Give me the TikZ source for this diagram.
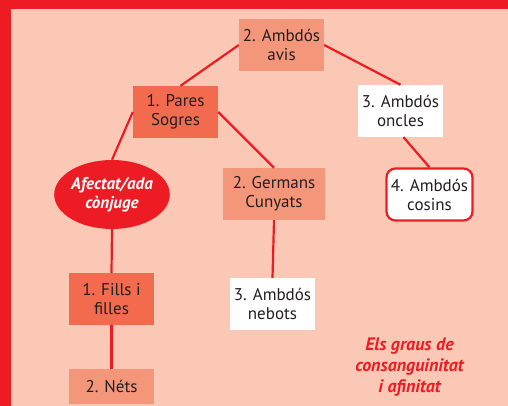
\documentclass[tikz,border=0pt]{standalone}
\usepackage{fontspec}
\setmainfont{PT Sans}
\usetikzlibrary{shapes.geometric}

\definecolor{framered}{HTML}{ED1C24}
\definecolor{peach}{HTML}{FAC8B4}
\definecolor{salmon}{HTML}{F4967A}
\definecolor{coral}{HTML}{F26B4F}
\definecolor{ink}{HTML}{231F20}

\begin{document}
\begin{tikzpicture}[
		x=1pt, y=-1pt,
		every node/.style={rectangle, minimum width=85pt, minimum height=52pt, inner sep=0pt, align=center, text=ink,
			font=\fontsize{17}{19}\selectfont},
		salmonbox/.style={fill=salmon},
		coralbox/.style={fill=coral},
		whitebox/.style={fill=white},
		link/.style={draw=framered, line width=2.2pt}
		]
		
		% Frame
		\useasboundingbox (0,0) rectangle (508,406);
		\fill[framered] (0,0) rectangle (508,406);
		\fill[peach] (11,9) rectangle (508,406);
		
		% Nodes
		\node (avis) [salmonbox] at (281.5,45) {2. Ambdós\\avis};
		\node (pares) [coralbox] at (175.5,112) {1. Pares\\Sogres};
		\node (oncles) [whitebox] at (400.5,111) {3. Ambdós\\oncles};
		\node (conjuge) [ellipse, fill=framered, minimum width=102pt, minimum height=69pt, text=white,
			font=\fontsize{17}{19}\selectfont\bfseries\itshape] at (112,194.5) {Afectat/ada\\cònjuge};
		\node (germans) [salmonbox, minimum width=102pt] at (274,194) {2. Germans\\Cunyats};
		\node (cosins) [whitebox, draw=framered, line width=2.2pt, rounded corners=9pt, minimum width=86pt, minimum height=52pt] at (429.5,194.5) {4. Ambdós\\cosins};
		\node (fills) [coralbox] at (111.5,299) {1. Fills i\\filles};
		\node (nebots) [whitebox] at (272.5,304) {3. Ambdós\\nebots};
		\node (nets) [salmonbox, minimum height=35pt] at (111.5,386.5) {2. Néts};
		\node (titol) [minimum width=0pt, minimum height=0pt, text=framered,
			font=\fontsize{18}{21}\selectfont\bfseries\itshape] at (409.5,367) {Els graus de\\consanguinitat\\i afinitat};
		
		% Lines
		\draw[link] (avis.west) -- ([xshift=5pt]pares.north);
		\draw[link] (avis.east) -- (oncles.north);
		\draw[link] (pares.west) -- (conjuge.north);
		\draw[link] (pares.east) -- (germans.north);
		\draw[link] ([xshift=3pt]oncles.south) -- (cosins.north);
		\draw[link] (conjuge.south) -- (fills.north);
		\draw[link] (germans.south) -- (nebots.north);
		\draw[link] (fills.south) -- (nets.north);
		
	\end{tikzpicture}
\end{document}
